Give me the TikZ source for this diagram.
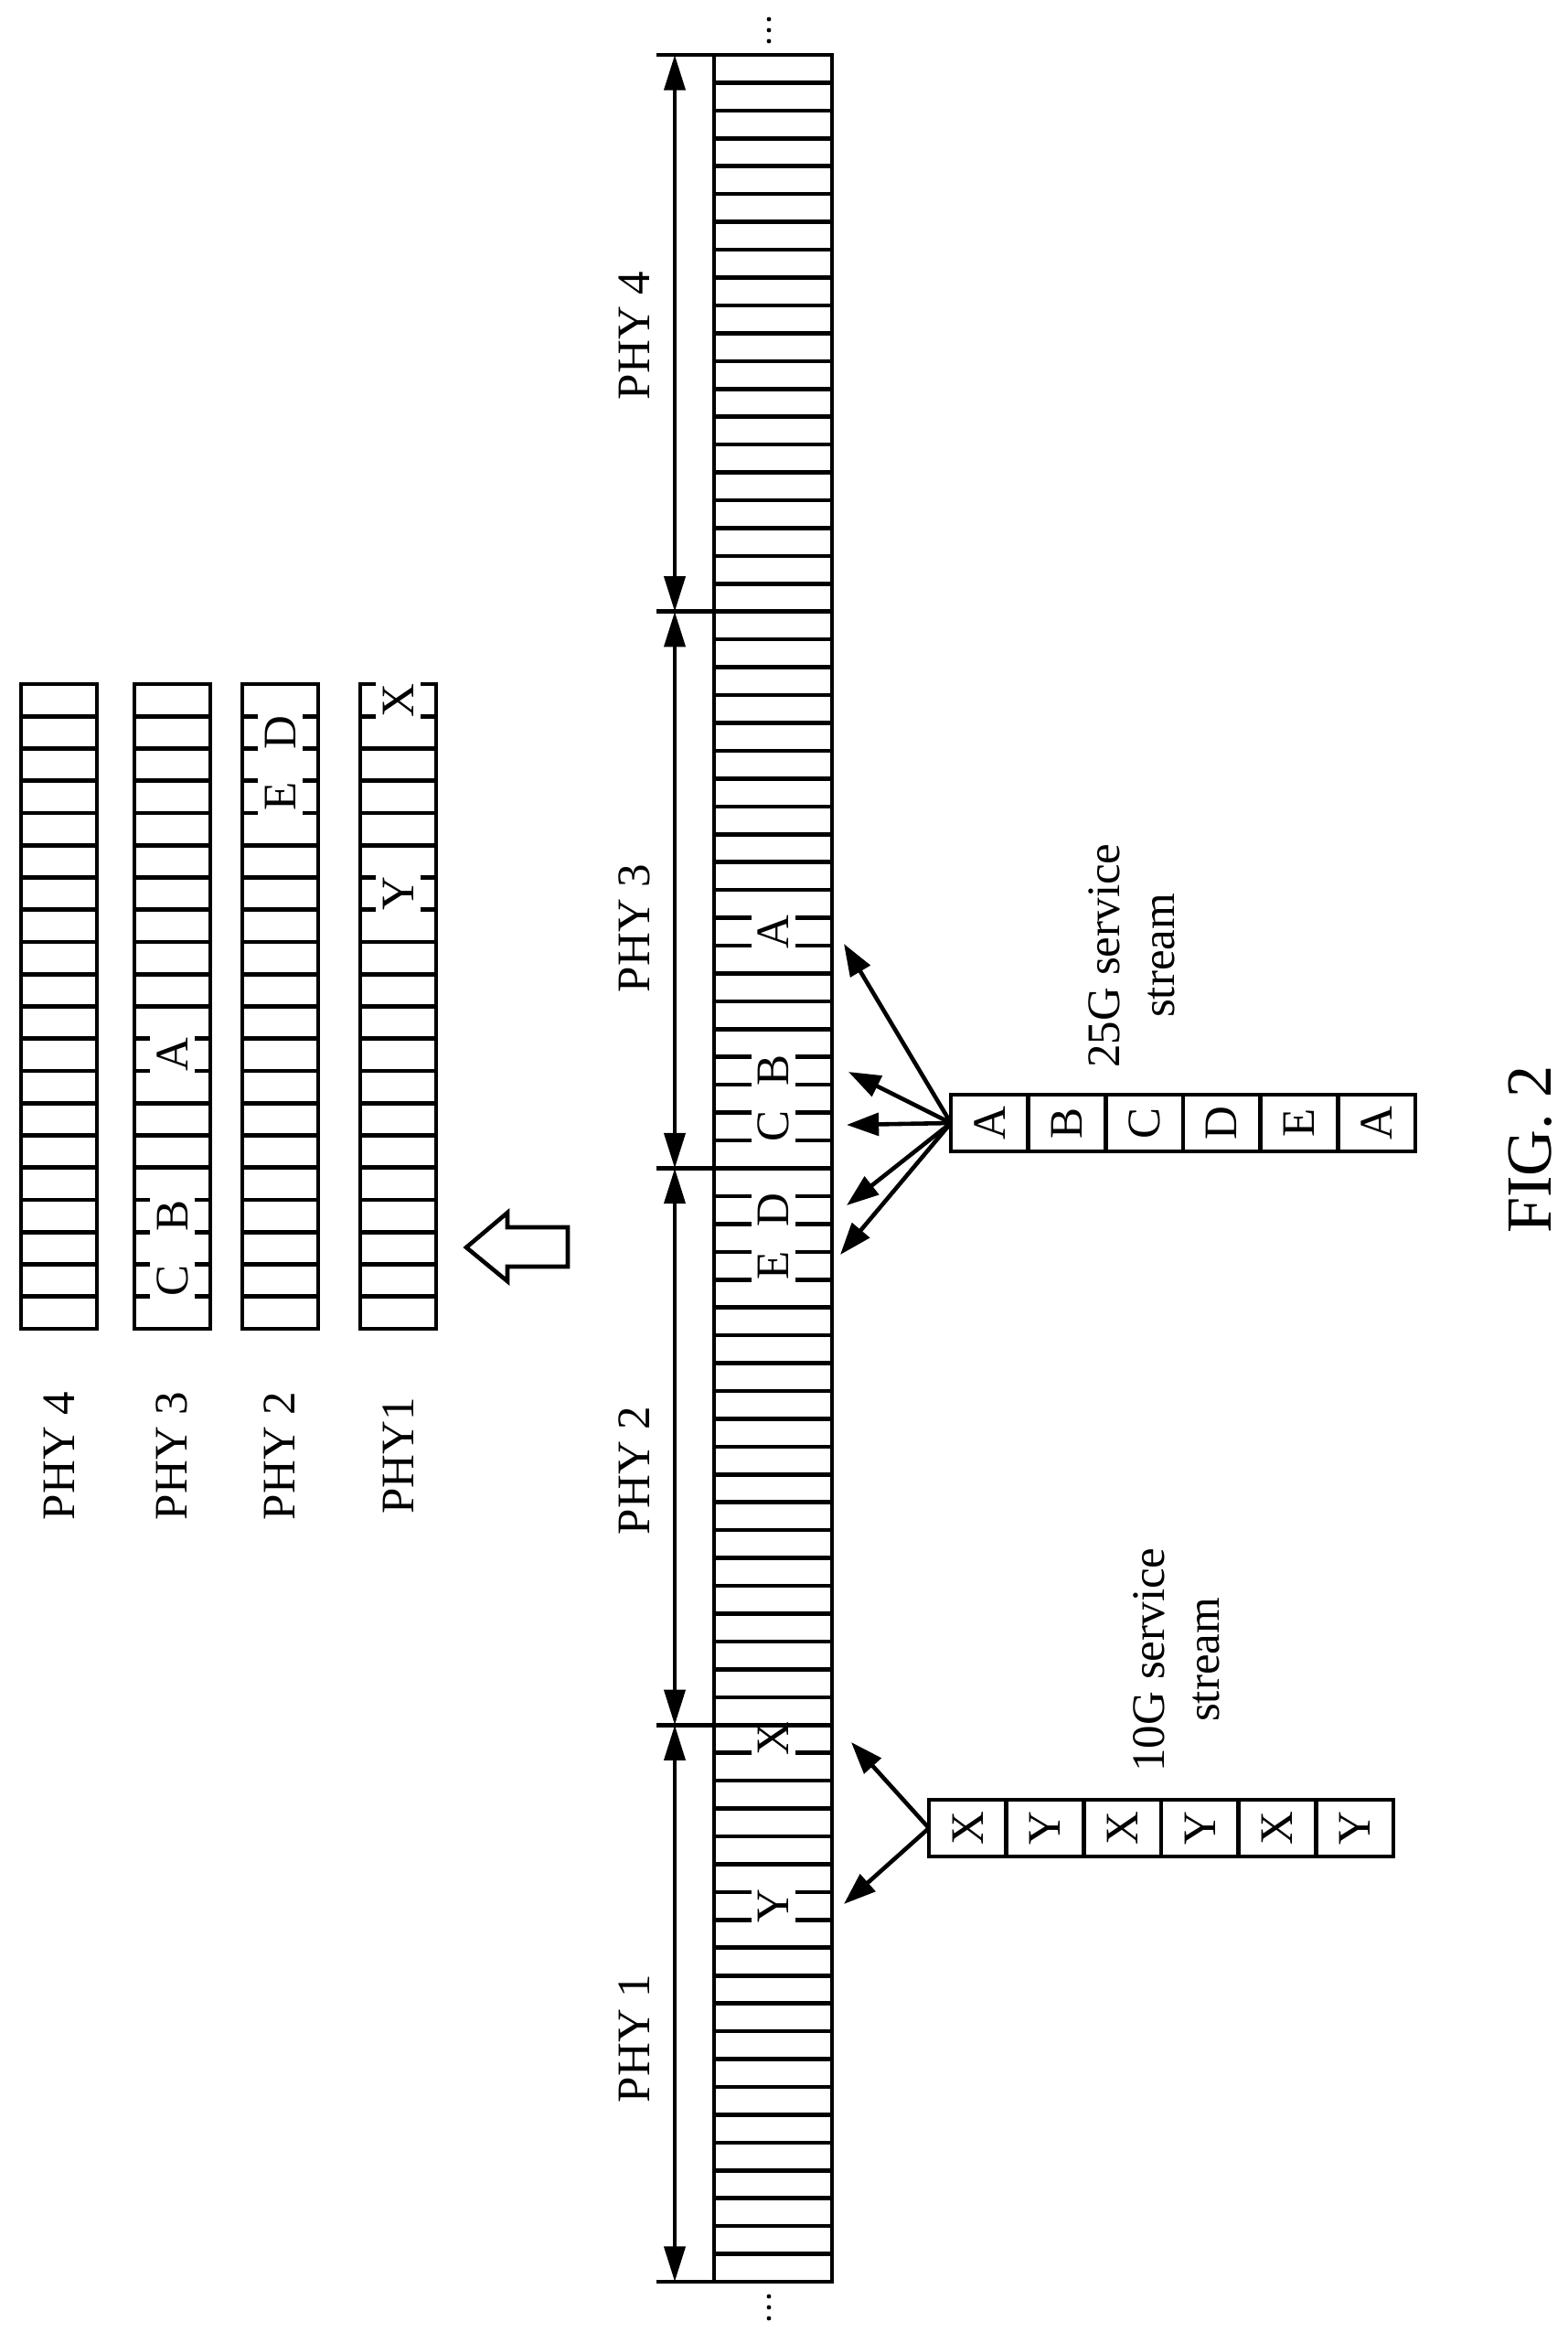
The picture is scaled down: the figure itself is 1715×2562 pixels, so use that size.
\documentclass[tikz,border=0pt]{standalone}
\usepackage{fontspec}
\setmainfont{Liberation Serif}
\usetikzlibrary{arrows.meta}
\begin{document}
\begin{tikzpicture}[x=0.01cm,y=-0.01cm, line width=1.3pt,
 lbl/.style={rotate=90,inner sep=0pt,font=\fontsize{14.5}{17}\selectfont},
 arr/.style={-{Triangle[length=10pt,width=7pt]}},
 dim/.style={{Triangle[length=11pt,width=6.5pt]}-{Triangle[length=11pt,width=6.5pt]}},
 gap/.style={fill=white,draw=none}]
\useasboundingbox (0,0) rectangle (1715,2562);
% ---------- main bar
\def\h{30.4375}
\foreach \j in {1,...,79}{\draw (781,60+\j*\h) -- (910,60+\j*\h);}
\foreach \j in {31,32,36,37,38,39,41,42,43,44,61,66,67}{\fill[gap] (822,60+\j*\h-4) rectangle (870,60+\j*\h+4);}
\draw (781,60) rectangle (910,2495);
\foreach \c/\t [count=\k] in {31/A,36/B,38/C,41/D,43/E,60/X,66/Y}{\node[lbl] (m\k) at (846,60+\c*\h+0.5*\h) {\t};}
% dimension lines
\foreach \j in {0,20,40,60,80}{\draw (718,60+\j*\h) -- (781,60+\j*\h);}
\draw[dim] (738,60) -- (738,60+20*\h);
\draw[dim] (738,60+20*\h) -- (738,60+40*\h);
\draw[dim] (738,60+40*\h) -- (738,60+60*\h);
\draw[dim] (738,60+60*\h) -- (738,60+80*\h);
\node[lbl] (p4) at (694,367) {PHY 4};
\node[lbl] (p3) at (694,1015) {PHY 3};
\node[lbl] (p2) at (694,1608) {PHY 2};
\node[lbl] (p1) at (694,2229) {PHY 1};
% dots
\foreach \y in {21,33,45,2511,2523,2535}{\fill (841,\y) circle (2.4);}
% ---------- small bars
\def\s{35.25}
\foreach \x/\n in {23/4,147/3,265/2,394/1}{
  \foreach \j in {1,...,19}{\draw (\x,748+\j*\s) -- (\x+83,748+\j*\s);}
}
\foreach \j in {11,12,16,17,18,19}{\fill[gap] (147+17,748+\j*\s-4) rectangle (147+66,748+\j*\s+4);}
\foreach \j in {1,2,3,4}{\fill[gap] (265+17,748+\j*\s-4) rectangle (265+66,748+\j*\s+4);}
\foreach \j in {1,6,7}{\fill[gap] (394+17,748+\j*\s-4) rectangle (394+66,748+\j*\s+4);}
\foreach \x in {23,147,265}{\draw (\x,748) rectangle (\x+83,1453);}
\draw (394+17,748) -- (394,748) -- (394,1453) -- (477,1453) -- (477,748) -- (394+66,748);
\foreach \x/\c/\t [count=\k] in {189/11/A,189/16/B,189/18/C,307/1/D,307/3/E,436/0/X,436/6/Y}{\node[lbl] (q\k) at (\x,748+\c*\s+0.5*\s) {\t};}
\node[lbl] (l4) at (65,1592) {PHY 4};
\node[lbl] (l3) at (188,1592) {PHY 3};
\node[lbl] (l2) at (306,1592) {PHY 2};
\node[lbl] (l1) at (436,1592) {PHY1};
% hollow arrow
\draw[line join=miter] (621,1342) -- (555,1342) -- (555,1326) -- (510,1364) -- (555,1401) -- (555,1385) -- (621,1385) -- cycle;
% ---------- 25G stream
\def\w{84.67}
\foreach \t [count=\k from 0] in {A,B,C,D,E,A}{\node[draw,minimum width=\w*0.01cm,minimum height=0.62cm,inner sep=0pt] (g\k) at (1040+\k*\w+0.5*\w,1228) {\rotatebox{90}{\fontsize{14.5}{17}\selectfont\t}};}
\coordinate (o25) at (1040,1228);
\coordinate (tA) at (923,1032);
\coordinate (tB) at (928,1172);
\coordinate (tC) at (926,1230);
\coordinate (tD) at (926,1318);
\coordinate (tE) at (919,1372);
\foreach \t in {tA,tB,tC,tD,tE}{\draw[arr] (o25) -- (\t);}
\node[lbl,align=center] (lab25) at (1238,1045) {25G service\\stream};
% ---------- 10G stream
\foreach \t [count=\k from 0] in {X,Y,X,Y,X,Y}{\node[draw,minimum width=\w*0.01cm,minimum height=0.62cm,inner sep=0pt] (z\k) at (1016+\k*\w+0.5*\w,1999) {\rotatebox{90}{\fontsize{14.5}{17}\selectfont\t}};}
\coordinate (o10) at (1016,1999);
\coordinate (tX) at (931,1905);
\coordinate (tY) at (923,2082);
\draw[arr] (o10) -- (tX);
\draw[arr] (o10) -- (tY);
\node[lbl,align=center] (lab10) at (1287,1815) {10G service\\stream};
\node[rotate=90,font=\fontsize{20}{24}\selectfont] (fig) at (1674,1257) {FIG. 2};
\end{tikzpicture}
\end{document}
